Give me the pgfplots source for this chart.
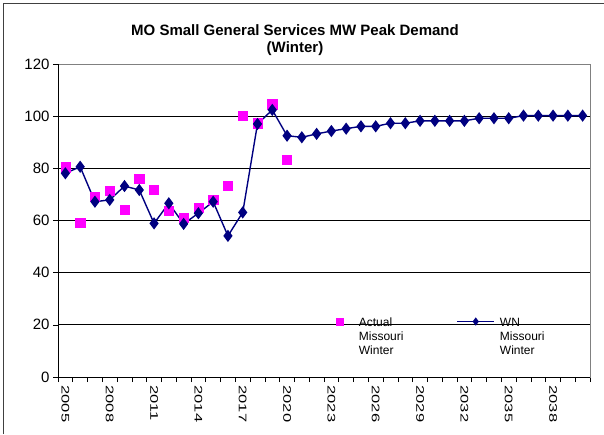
\documentclass[border=0pt]{standalone}
\usepackage{graphicx}
\usepackage{pgfplots}
\pgfplotsset{compat=1.18}
\usepackage{fontspec}
\setmainfont{Liberation Sans}
\definecolor{wnnavy}{HTML}{000080}
\definecolor{actmag}{HTML}{FF00FF}
\definecolor{framegray}{HTML}{808080}

\begin{document}
\begin{tikzpicture}
\path[use as bounding box] (0,0) rectangle (604pt,434pt);
\draw[black!75, line width=0.8pt] (3pt,0) -- (3pt,431pt) -- (604pt,431pt);
\node[font=\bfseries\fontsize{15}{17.5}\selectfont, align=center]
  at (295pt,394pt) {MO Small General Services MW Peak Demand\\(Winter)};
\begin{axis}[
  at={(58pt,57pt)}, anchor=south west,
  scale only axis, width=532pt, height=313pt,
  xmin=2004.5, xmax=2040.5, ymin=0, ymax=120,
  ytick={0,20,...,120},
  xtick={2004.5,2005.5,...,2040.5}, xticklabels={},
  extra x ticks={2005,2008,...,2038},
  extra x tick style={grid=none, major tick length=0pt,
    xticklabel={\scalebox{1.5}[1]{\axisdefaultticklabel}},
    xticklabel style={yshift=-5pt, rotate=-90, anchor=west,
      font=\fontsize{11}{13}\selectfont}},
  /pgf/number format/set thousands separator={},
  /pgf/number format/assume math mode=true,
  tick align=outside, major tick length=5pt,
  tick style={black, line width=0.6pt},
  ymajorgrids, major grid style={black, line width=0.7pt},
  axis line style={framegray, line width=0.8pt},
  yticklabel style={font=\fontsize{15}{17}\selectfont},
  xtick pos=bottom, ytick pos=left,
  legend columns=2,
  legend style={at={(axis cs:2023.1,24.4)}, anchor=north west,
    draw=none, fill=none, font=\fontsize{12}{14}\selectfont,
    nodes={align=left, anchor=north west},
    /tikz/column 1/.style={column sep=14pt},
    /tikz/column 2/.style={column sep=51pt},
    /tikz/column 3/.style={column sep=3pt}},
  legend cell align=left,
]
\draw[black, line width=0.8pt] (rel axis cs:0,0) -- (rel axis cs:0,1);
\draw[black, line width=0.8pt] (rel axis cs:0,0) -- (rel axis cs:1,0);

\addplot[only marks, mark=square*, mark size=4.6pt, color=actmag,
  legend image post style={mark size=3.4pt, yshift=-6pt}]
  coordinates {
  (2005,80.4) (2006,59.3) (2007,69.1) (2008,71.3) (2009,64.0)
  (2010,76.0) (2011,71.7) (2012,63.8) (2013,61.1) (2014,65.0)
  (2015,68.1) (2016,73.2) (2017,100.2) (2018,97.3) (2019,104.6)
  (2020,83.2)
  };
\addlegendentry{Actual\\Missouri\\Winter}

\addplot[color=wnnavy, line width=1.4pt, mark=diamond*, mark size=5pt,
  mark options={solid},
  legend image code/.code={\draw[mark repeat=2,mark phase=2, mark size=3pt,
    yshift=-6pt] plot coordinates {(0pt,0pt) (18.5pt,0pt) (37pt,0pt)};}]
  coordinates {
  (2005,78.1) (2006,80.6) (2007,67.2) (2008,67.9) (2009,73.2)
  (2010,71.7) (2011,58.9) (2012,66.6) (2013,58.7) (2014,62.8)
  (2015,67.2) (2016,54.1) (2017,63.1) (2018,97.0) (2019,102.4)
  (2020,92.5) (2021,91.9) (2022,93.2) (2023,94.3) (2024,95.2)
  (2025,96.1) (2026,96.1) (2027,97.3) (2028,97.3) (2029,98.2)
  (2030,98.2) (2031,98.2) (2032,98.2) (2033,99.2) (2034,99.2)
  (2035,99.2) (2036,100.2) (2037,100.2) (2038,100.2) (2039,100.2)
  (2040,100.2)
  };
\addlegendentry{WN\\Missouri\\Winter}
\end{axis}
\end{tikzpicture}
\end{document}
